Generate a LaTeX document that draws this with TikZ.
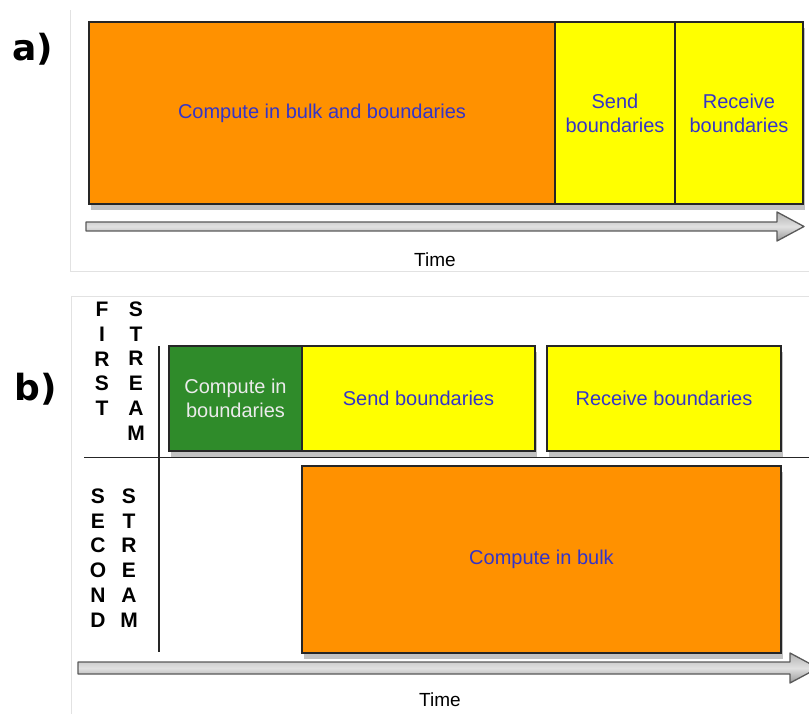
\documentclass[tikz,border=0pt]{standalone}
\usepackage{fontspec}
\setmainfont{Liberation Sans}
\newfontfamily\tagfont{DejaVu Sans}
\usetikzlibrary{shadows}

\definecolor{bulkorange}{RGB}{255,145,0}
\definecolor{commyellow}{RGB}{255,255,0}
\definecolor{bndgreen}{RGB}{47,139,42}
\definecolor{labelblue}{RGB}{52,52,200}
\definecolor{framegray}{RGB}{226,226,226}

\tikzset{
	task/.style={draw=black!85, line width=1.2pt, inner sep=0pt, align=center,
		font=\fontsize{20}{24}\selectfont, text=labelblue,
		drop shadow={shadow xshift=2pt, shadow yshift=-6pt, opacity=0.4, fill=black!60}},
	streamlbl/.style={font=\fontsize{21}{24.7}\selectfont\bfseries, align=center, inner sep=0pt},
	timearrow/.style={top color=black!30, bottom color=black!40, middle color=black!12, draw=black!65, line width=1.3pt, line join=round},
	tag/.style={font=\fontsize{36}{36}\selectfont\tagfont\bfseries},
}

\begin{document}
\begin{tikzpicture}[x=1pt, y=-1pt]
	\clip (0,0) rectangle (809,714);
	\useasboundingbox (0,0) rectangle (809,714);
	
	% panel a
	\draw[framegray, line width=1pt] (70,10) -- (70,272) -- (809,272);
	\node[tag] (taga) at (33,49) {a)};
	\node[task, fill=bulkorange, minimum width=466pt, minimum height=182pt] (bulka) at (322,113) {Compute in bulk and boundaries};
	\node[task, fill=commyellow, minimum width=120pt, minimum height=182pt] (senda) at (615,113) {Send\\boundaries};
	\node[task, fill=commyellow, minimum width=128pt, minimum height=182pt] (recva) at (739,113) {Receive\\boundaries};
	\draw[timearrow] (86,222) -- (777,222) -- (777,212) -- (804,226.5) -- (777,241) -- (777,231) -- (86,231) -- cycle;
	\node[font=\fontsize{19}{19}\selectfont] (timea) at (435,260) {Time};
	
	% panel b
	\draw[framegray, line width=1pt] (71,714) -- (71,297) -- (809,297);
	\node[tag] (tagb) at (36,389) {b)};
	\node[streamlbl] (first) at (102,359) {F\\I\\R\\S\\T};
	\node[streamlbl] (streama) at (136,371) {S\\T\\R\\E\\A\\M};
	\node[streamlbl] (second) at (98,558) {S\\E\\C\\O\\N\\D};
	\node[streamlbl] (streamb) at (129,558) {S\\T\\R\\E\\A\\M};
	\coordinate (hl) at (84,457.5);
	\coordinate (hr) at (809,457.5);
	\coordinate (vt) at (159,346);
	\coordinate (vb) at (159,652);
	\draw[black!85, line width=1.3pt] (hl) -- (hr);
	\draw[black!85, line width=1.3pt] (vt) -- (vb);
	
	\node[task, fill=bndgreen, text=black!8, minimum width=133pt, minimum height=105pt] (bndb) at (235.5,398.5) {Compute in\\boundaries};
	\node[task, fill=commyellow, minimum width=233pt, minimum height=105pt] (sendb) at (418.5,398.5) {Send boundaries};
	\node[task, fill=commyellow, minimum width=234pt, minimum height=105pt] (recvb) at (664,398.5) {Receive boundaries};
	\node[task, fill=bulkorange, minimum width=479pt, minimum height=187pt] (bulkb) at (541.5,559.5) {Compute in bulk};
	\draw[timearrow] (78,662) -- (790,662) -- (790,653) -- (818,668) -- (790,683) -- (790,674) -- (78,674) -- cycle;
	\node[font=\fontsize{19}{19}\selectfont] (timeb) at (440,700) {Time};
\end{tikzpicture}
\end{document}
